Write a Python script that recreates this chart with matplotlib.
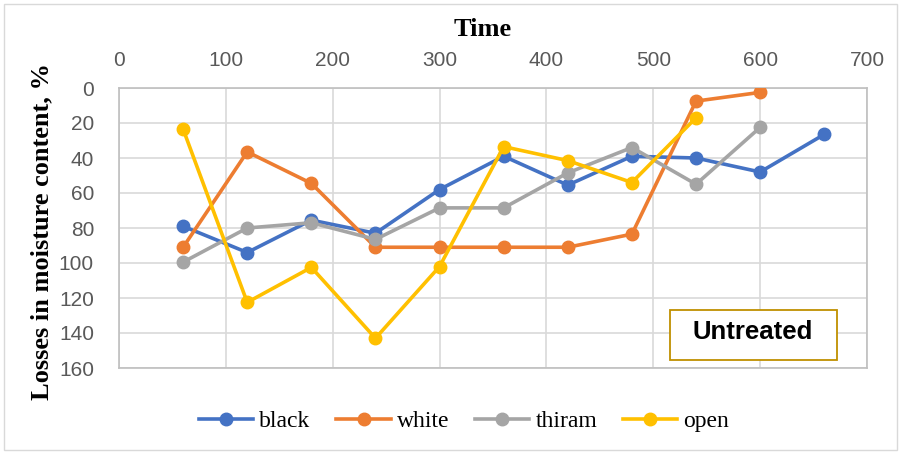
import matplotlib.pyplot as plt
from matplotlib.patches import Rectangle

time = [60, 120, 180, 240, 300, 360, 420, 480, 540, 600, 660]
black = [79, 94, 75.5, 83, 58, 39, 55.5, 39, 40, 48, 26.5]
white = [91, 36.5, 54.5, 91, 91, 91, 91, 83.5, 7.5, 2.5]
thiram = [99.5, 80, 77, 86.5, 68.5, 68.5, 48.5, 34, 55, 22.5]
open_ = [23.5, 122.5, 102.5, 143, 102, 33.5, 41.5, 54, 17]

series = [("black", black, "#4472C4"), ("white", white, "#ED7D31"),
          ("thiram", thiram, "#A5A5A5"), ("open", open_, "#FFC000")]

serif = ["Liberation Serif", "DejaVu Serif"]
sans = ["Liberation Sans", "DejaVu Sans"]

fig = plt.figure(figsize=(9.02, 4.55), dpi=100)
ax = fig.add_axes([119 / 902, 1 - 368 / 455, 748 / 902, 280 / 455])

for name, vals, col in series:
    ax.plot(time[:len(vals)], vals, color=col, lw=2.6, marker="o",
            markersize=9, label=name, zorder=3)

ax.set_xlim(0, 700)
ax.set_ylim(160, 0)
ax.set_xticks(range(0, 701, 100))
ax.set_yticks(range(0, 161, 20))
ax.xaxis.tick_top()
ax.tick_params(length=0, labelsize=15, labelcolor="#595959")
ax.tick_params(axis="x", pad=13)
ax.tick_params(axis="y", pad=18)
for lab in ax.get_xticklabels() + ax.get_yticklabels():
    lab.set_family(sans)
ax.grid(color="#D9D9D9", lw=1.2)
ax.set_axisbelow(True)
for sp in ax.spines.values():
    sp.set_color("#BFBFBF")
    sp.set_linewidth(1.2)

fig.text(483 / 902, 1 - 29 / 455, "Time", ha="center", va="center",
         fontsize=19, fontweight="bold", family=serif)
fig.text(42 / 902, 1 - 231 / 455, "Losses in moisture content, %", rotation=90,
         ha="center", va="center", fontsize=19, fontweight="bold", family=serif)

# label box
ax.add_patch(Rectangle((670 / 902, 1 - 360 / 455), 167 / 902, 50 / 455,
                       transform=fig.transFigure, fill=True, fc="white",
                       ec="#BF9000", lw=1.3, zorder=5))
fig.text(753 / 902, 1 - 332 / 455, "Untreated", ha="center", va="center",
         fontsize=18.5, fontweight="bold", family=sans, zorder=6)

fig.legend(loc="center", bbox_to_anchor=(464 / 902, 1 - 421 / 455), ncol=4,
           frameon=False, prop={"family": serif, "size": 17},
           handlelength=2.3, columnspacing=1.1, handletextpad=0.25)

fig.add_artist(Rectangle((4 / 902, 5 / 455), 893 / 902, 446 / 455,
                         transform=fig.transFigure, fill=False, ec="#D9D9D9", lw=1))

fig.savefig("out.png", dpi=100)
